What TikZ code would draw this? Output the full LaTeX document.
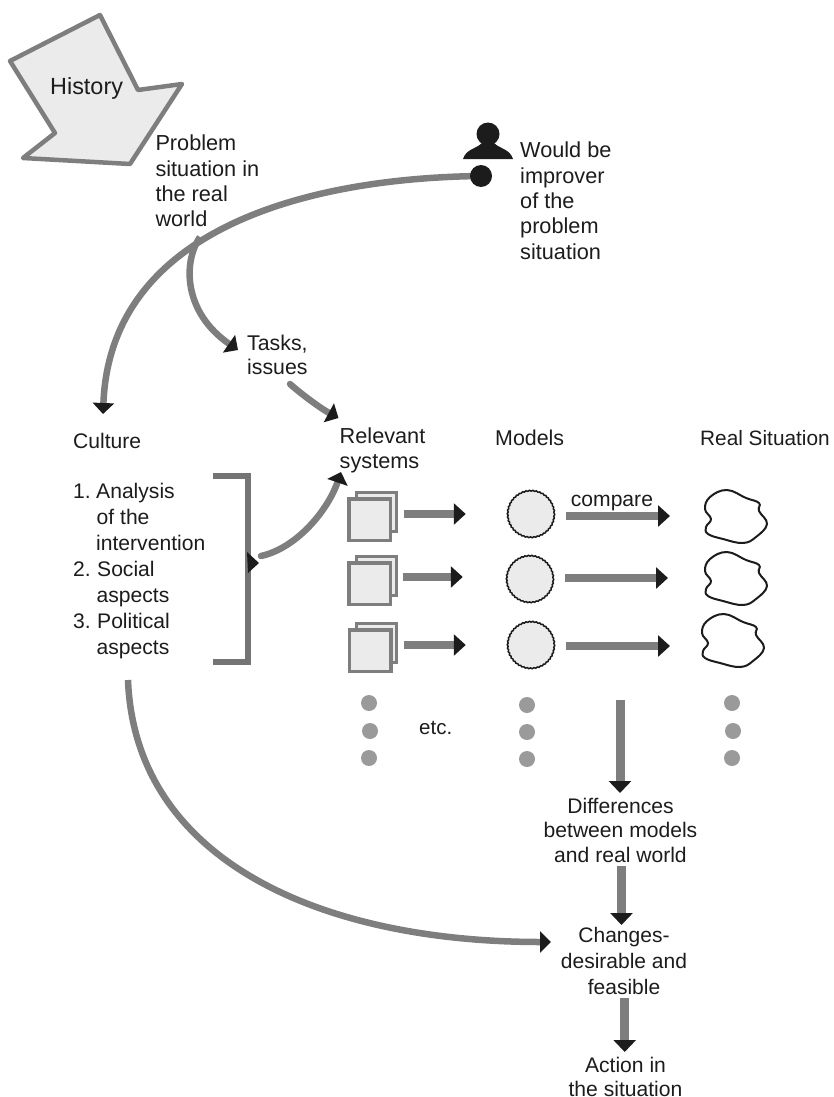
\documentclass[tikz,border=0pt]{standalone}
\usepackage{fontspec}
\setmainfont{Liberation Sans}
\usetikzlibrary{arrows.meta,calc,decorations.pathmorphing}
\definecolor{lineG}{HTML}{7E7E7E}
\definecolor{fillG}{HTML}{EBEBEB}
\definecolor{dotG}{HTML}{9A9A9A}
\definecolor{inkK}{HTML}{1C1C1C}
\tikzset{
  lbl/.style={inner sep=0pt,font=\fontsize{21.7}{25.3}\selectfont,text=inkK,align=left,anchor=north west},
  lblb/.style={inner sep=0pt,font=\fontsize{21.1}{24.3}\selectfont,text=inkK,align=left,anchor=north west},
  lblc/.style={inner sep=0pt,font=\fontsize{21.1}{24.3}\selectfont,text=inkK,align=center,anchor=north},
  flow/.style={draw=lineG,line width=7.5pt,-{Triangle[length=12pt,width=21pt,color=inkK]}},
  down/.style={draw=lineG,line width=9pt,-{Triangle[length=12pt,width=22pt,color=inkK]}},
  curve/.style={draw=lineG,line width=6.5pt,line cap=round,-{Triangle[length=11pt,width=21pt,color=inkK]}},
  sqf/.style={draw=lineG,fill=fillG,line width=3.5pt,inner sep=0pt,minimum width=41.5pt,minimum height=41.5pt},
  sqb/.style={draw=lineG,fill=fillG,line width=3pt,inner sep=0pt,minimum width=39.5pt,minimum height=38.5pt},
  circ/.style={circle,draw=inkK,fill=fillG,line width=1.5pt,inner sep=0pt,minimum size=47pt,decorate,decoration={bumps,segment length=7pt,amplitude=.7pt}},
  gdot/.style={circle,fill=dotG,inner sep=0pt,minimum size=16pt},
  blob/.pic={\draw[inkK,line width=2pt] plot[smooth cycle,tension=.7] coordinates {
    (-9,-27) (10,-19) (23,-14) (23,-6) (31,7) (20,20) (7,26) (-13,22) (-28,17) (-30,10) (-25,2) (-31,-8) (-26,-20)};}
}
\begin{document}
\begin{tikzpicture}[x=1pt,y=-1pt]
\useasboundingbox (0,0) rectangle (833,1097);
% History
\draw[draw=lineG,fill=fillG,line width=4.5pt,line join=round] (100,15) -- (10,61) -- (55,133) -- (23,158) -- (130,164) -- (182,84) -- (138,90) -- cycle;
\node[lbl,font=\fontsize{23.4}{27}\selectfont] (history) at (50,77) {History};
% labels
\node[lbl] (problem) at (155.3,135) {Problem\\situation in\\the real\\world};
\node[lbl] (improver) at (520,142) {Would be\\improver\\of the\\problem\\situation};
\node[lblb,font=\fontsize{21.3}{24.3}\selectfont] (tasks) at (247,335) {Tasks,\\issues};
\node[lblb] (culture) at (73,433) {Culture};
\node[lbl,font=\fontsize{21.7}{24.3}\selectfont] (relevant) at (339.5,428) {Relevant\\systems};
\node[lblb,font=\fontsize{21.4}{24}\selectfont] (models) at (495,430) {Models};
\node[lblb,font=\fontsize{20.8}{24}\selectfont] (realsit) at (700,430) {Real Situation};
\node[lblb,anchor=base west] (compare) at (570.7,506) {compare};
\node[lblb,anchor=base west,font=\fontsize{20.5}{24}\selectfont] (etc) at (419,734) {etc.};
\node[lblb,font=\fontsize{21.1}{26}\selectfont] (list) at (73,483) {\makebox[23pt][l]{1.}Analysis\\\hspace*{23.5pt}of the\\\hspace*{23pt}intervention\\\makebox[24pt][l]{2.}Social\\\hspace*{23.5pt}aspects\\\makebox[24pt][l]{3.}Political\\\hspace*{23.5pt}aspects};
\node[lblc] (diff) at (620.5,798) {Differences\\between models\\and real world};
\node[lblc,font=\fontsize{21}{26}\selectfont] (changes) at (624,927) {Changes-\\desirable and\\feasible};
\node[lblc,font=\fontsize{21.1}{23.8}\selectfont] (action) at (625.5,1057) {Action in\\the situation};
% person
\node[circle,fill=inkK,inner sep=0pt,minimum size=23pt] (head) at (488,134) {};
\fill[inkK] (463,159) .. controls (466,149) and (476,149) .. (482,143) -- (494,143) .. controls (500,149) and (510,149) .. (513,159) -- cycle;
% main curves
\coordinate (hand) at (481,176);
\coordinate (culTip) at (103,414);
\coordinate (branch) at (200,237);
\coordinate (taskTip) at (238,350);
\draw[curve] (hand) .. controls (305,178) and (110,230) .. (culTip);
\draw[curve,line cap=butt] (branch) .. controls (183,262) and (183,312) .. (taskTip);
\node[circle,fill=inkK,inner sep=0pt,minimum size=22pt] (handdot) at (hand) {};
\coordinate (tiStart) at (290,384);
\coordinate (relTip) at (338.5,418);
\draw[curve] (tiStart) .. controls (300,393) and (320,408) .. (relTip);
% bracket
\draw[draw=lineG!92!black,line width=6.5pt] (213,476) -- (248,476) -- (248,662) -- (213,662);
\fill[inkK] (247,552) -- (259,563) -- (248,573) -- cycle;
\coordinate (brk) at (261,556);
\coordinate (sysTip) at (341,472);
\draw[curve] (brk) .. controls (297,548) and (328,510) .. (sysTip);
% stacks
\node[sqb] (b1) at (376.5,512) {};
\node[sqf] (f1) at (369.5,519.5) {};
\node[sqb] (b2) at (376.5,576) {};
\node[sqf] (f2) at (369.5,583.5) {};
\node[sqb] (b3) at (376.5,643) {};
\node[sqf] (f3) at (370,650.5) {};
% circles
\node[circ] (c1) at (531,514) {};
\node[circ] (c2) at (530,579) {};
\node[circ] (c3) at (531,645) {};
% blobs
\pic at (736,517) {blob};
\pic at (736,579) {blob};
\pic at (733,641) {blob};
\coordinate (r1) at (670,516);
\coordinate (r2) at (668,578);
\coordinate (r3) at (670,646);
% arrows
\draw[flow,shorten <=6pt,shorten >=41pt] (b1.east |- c1.west) -- (c1.west);
\draw[flow,shorten <=5pt,shorten >=43pt] ([yshift=2pt]b2.east |- c2.west) -- ([yshift=2pt]c2.west);
\draw[flow,shorten <=6pt,shorten >=41pt] (b3.east |- c3.west) -- (c3.west);
\draw[flow,shorten <=11pt] (c1.east |- r1) -- (r1);
\draw[flow,shorten <=11pt] (c2.east |- r2) -- (r2);
\draw[flow,shorten <=11pt] (c3.east |- r3) -- (r3);
% dots
\foreach \n/\x/\y in {a1/369/703,a2/370/731,a3/369/758,b1/527/705,b2/527/732,b3/527/759,d1/732/703,d2/733/731,d3/732/758}
  \node[gdot] (dot\n) at (\x,\y) {};
% vertical arrows
\coordinate (diffStart) at (620,700);
\draw[down,shorten >=5pt] (diffStart) -- (diffStart |- diff.north);
\draw[down,line width=8.5pt,shorten <=3pt,shorten >=2pt] ([xshift=1pt]diff.south) -- ([xshift=-2.5pt]changes.north);
\draw[down,line width=9.5pt,shorten <=3pt,shorten >=5pt] ([xshift=.7pt]changes.south) -- ([xshift=-.8pt]action.north);
% lower curve
\coordinate (lowStart) at (128,680);
\coordinate (lowTip) at (551,942);
\draw[curve,line cap=butt] (lowStart) .. controls (135,860) and (320,942) .. (lowTip);
\end{tikzpicture}
\end{document}
